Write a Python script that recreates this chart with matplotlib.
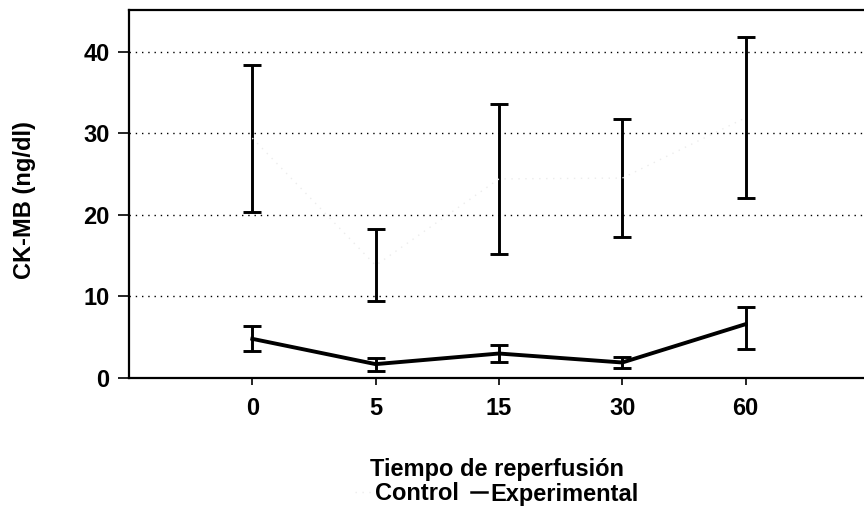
import matplotlib
matplotlib.use("Agg")
import matplotlib.pyplot as plt
from matplotlib.lines import Line2D

categories = ["0", "5", "15", "30", "60"]
control_mean = [29.4, 13.8, 24.4, 24.5, 31.9]
control_err = [9.0, 4.4, 9.2, 7.2, 9.9]
exp_mean = [4.8, 1.7, 3.0, 1.9, 6.6]
exp_low = [3.3, 0.9, 2.0, 1.2, 3.5]
exp_high = [6.4, 2.5, 4.1, 2.6, 8.7]

plt.rcParams['font.family'] = ['Liberation Sans', 'DejaVu Sans']
plt.rcParams['font.weight'] = 'bold'
FS = 17

fig = plt.figure(figsize=(8.64, 5.07), dpi=100)
ax = fig.add_axes([129/864, 1 - 378/507, 1 - 129/864, (378 - 10)/507])

x = list(range(len(categories)))
ax.errorbar(x, control_mean, yerr=control_err, color='#ececec', ls=(0, (1, 4)), lw=1.0,
            ecolor='black', elinewidth=2.1, capsize=6.5, capthick=2.1, zorder=3)
yerr_exp = [[m - l for m, l in zip(exp_mean, exp_low)], [h - m for m, h in zip(exp_mean, exp_high)]]
ax.errorbar(x, exp_mean, yerr=yerr_exp, color='black', lw=2.8,
            ecolor='black', elinewidth=2.1, capsize=6.5, capthick=2.1, zorder=4)

ax.set_xlim(-1, 4.96)
ax.set_ylim(0, 45.1)
ax.set_xticks(x)
ax.set_xticklabels(categories)
ax.set_yticks([0, 10, 20, 30, 40])
ax.tick_params(axis='both', labelsize=FS, width=1.2, color='black')
ax.tick_params(axis='y', length=8, pad=6)
ax.tick_params(axis='x', length=5, pad=9)
for lab in ax.get_xticklabels() + ax.get_yticklabels():
    lab.set_fontweight('bold')

for y in [10, 20, 30, 40]:
    ax.axhline(y, color='black', lw=1.0, ls=(0, (1, 3.5)), zorder=1)

ax.spines['right'].set_visible(False)
for s in ['left', 'bottom', 'top']:
    ax.spines[s].set_linewidth(1.6)

ax.set_ylabel("CK-MB (ng/dl)", fontsize=FS, fontweight='bold')
ax.yaxis.set_label_coords(-0.127, 0.484)
ax.set_xlabel("Tiempo de reperfusión", fontsize=FS, fontweight='bold', labelpad=27)

handles = [Line2D([], [], color='#ececec', lw=1.0, ls=(0, (1, 4))),
           Line2D([], [], color='black', lw=1.8)]
fig.legend(handles, ["Control", "Experimental"], loc='center', bbox_to_anchor=(497/864, 1 - 494/507),
           ncol=2, frameon=False, handlelength=0.7, handletextpad=0.15,
           columnspacing=0.5, prop={'weight': 'bold', 'size': FS})

fig.savefig("out.png", dpi=100)
